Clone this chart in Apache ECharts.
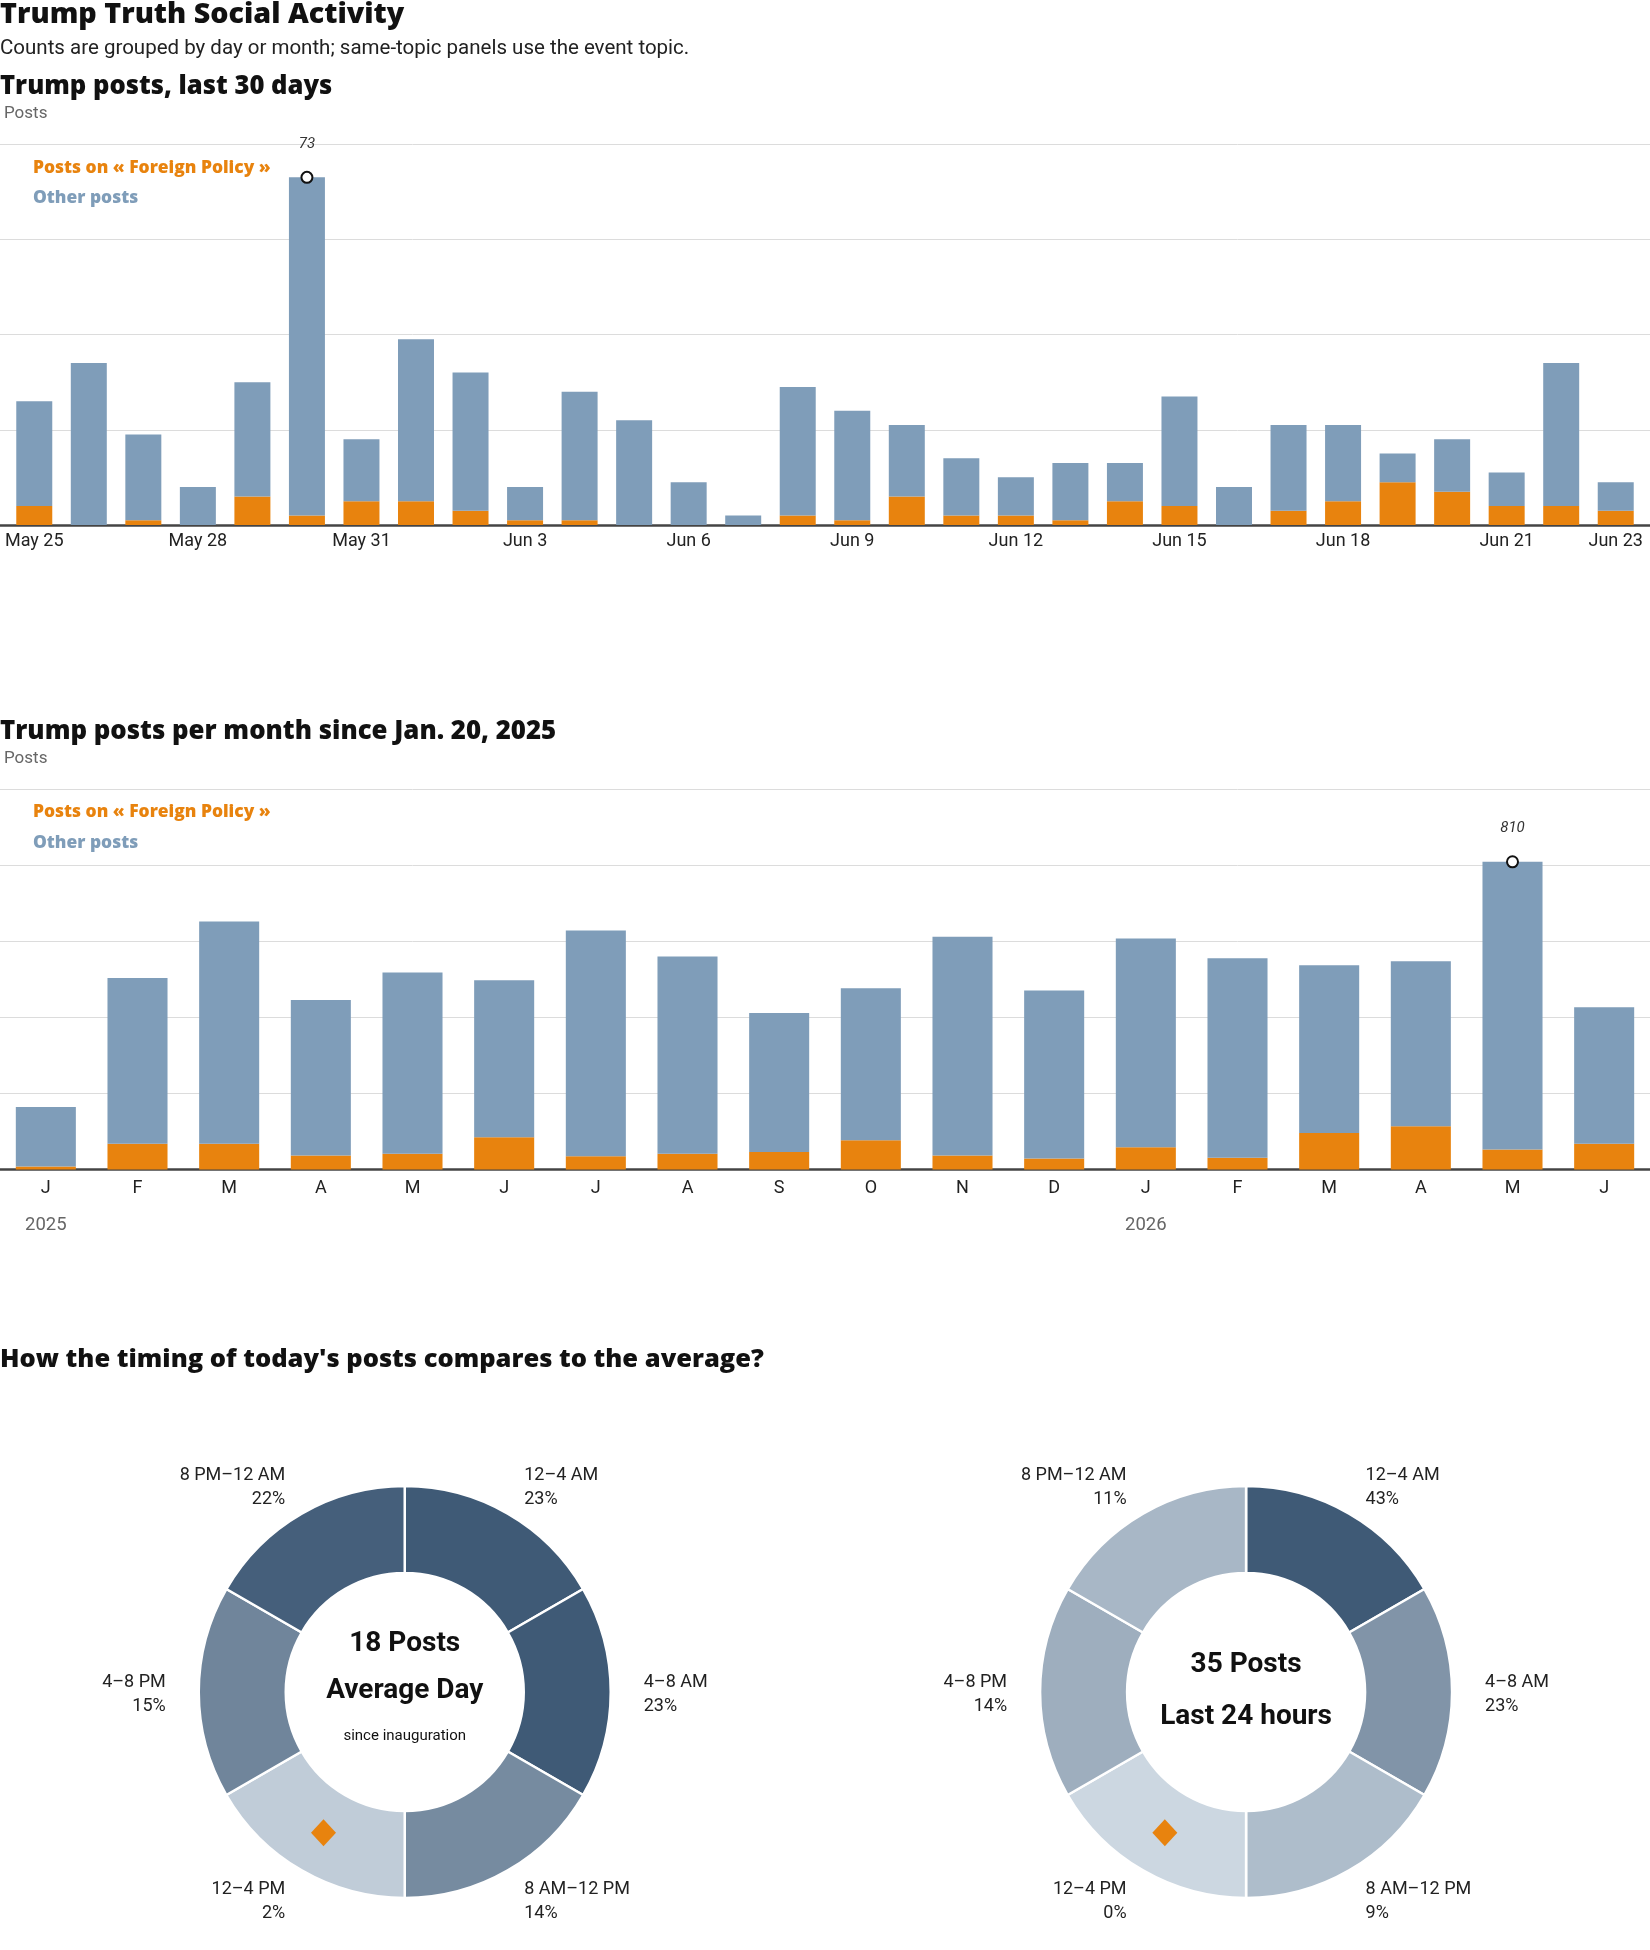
<!DOCTYPE html>
<html>
<head>
<meta charset="utf-8">
<title>Trump Truth Social Activity</title>
<script src="https://cdn.jsdelivr.net/npm/echarts@6/dist/echarts.min.js"></script>
<style>
html, body { margin: 0; padding: 0; background: #fff; }
#chart { width: 1650px; height: 1950px; }
</style>
</head>
<body>
<div id="chart"></div>
<script>
'use strict';
// last 30 days
var days = ['May 25', 'May 26', 'May 27', 'May 28', 'May 29', 'May 30', 'May 31',
	'Jun 1', 'Jun 2', 'Jun 3', 'Jun 4', 'Jun 5', 'Jun 6', 'Jun 7', 'Jun 8', 'Jun 9',
	'Jun 10', 'Jun 11', 'Jun 12', 'Jun 13', 'Jun 14', 'Jun 15', 'Jun 16', 'Jun 17',
	'Jun 18', 'Jun 19', 'Jun 20', 'Jun 21', 'Jun 22', 'Jun 23'];
var dayTotal = [26, 34, 19, 8, 30, 73, 18, 39, 32, 8, 28, 22, 9, 2, 29,
	24, 21, 14, 10, 13, 13, 27, 8, 21, 21, 15, 18, 11, 34, 9];
var dayTopic = [4, 0, 1, 0, 6, 2, 5, 5, 3, 1, 1, 0, 0, 0, 2,
	1, 6, 2, 2, 1, 5, 4, 0, 3, 5, 9, 7, 4, 4, 3];

// per month since inauguration
var months = ['2025-01', '2025-02', '2025-03', '2025-04', '2025-05', '2025-06', '2025-07',
	'2025-08', '2025-09', '2025-10', '2025-11', '2025-12', '2026-01', '2026-02',
	'2026-03', '2026-04', '2026-05', '2026-06'];
var monthTotal = [165, 504, 653, 446, 519, 498, 629, 561, 412, 477, 613, 471, 608, 556, 538, 548, 810, 427];
var monthTopic = [8, 68, 68, 37, 42, 85, 35, 42, 46, 77, 37, 29, 59, 31, 96, 114, 53, 68];

// timing donuts
var slots = ['12–4 AM', '4–8 AM', '8 AM–12 PM', '12–4 PM', '4–8 PM', '8 PM–12 AM'];
var avgShare = [23, 23, 14, 2, 15, 22];
var todayShare = [43, 23, 9, 0, 14, 11];
var nowSlot = '12–4 PM';
var avgPosts = 18;
var todayPosts = 35;

var topicName = 'Posts on « Foreign Policy »';
var otherName = 'Other posts';
var ORANGE = '#e8830e', BLUE = '#7f9db9';
var HEAD = '"Open Sans", Roboto, sans-serif';
var CENTER = 'Roboto, "Noto Sans", sans-serif';
var BODY = 'Roboto, "Noto Sans", sans-serif';

var dayOther = dayTotal.map(function (v, i) { return v - dayTopic[i]; });
var monthOther = monthTotal.map(function (v, i) { return v - monthTopic[i]; });

function peakOf(arr) {
	var idx = 0;
	for (var i = 1; i < arr.length; i++) { if (arr[i] > arr[idx]) idx = i; }
	return [idx, arr[idx]];
}

// darker slice = bigger share
var light = [204, 215, 225], dark = [63, 90, 118];
function shade(t) {
	return 'rgb(' + light.map(function (c, i) { return Math.round(c + (dark[i] - c) * t); }).join(',') + ')';
}
function donutData(share) {
	var max = Math.max.apply(null, share);
	return slots.map(function (s, i) {
		return { name: s, value: 1, itemStyle: { color: shade(share[i] / max) } };
	});
}

function heading(text, top, size) {
	return { text: text, left: 0, top: top, padding: 0,
		textStyle: { fontFamily: HEAD, fontWeight: 800, fontSize: size, color: '#111' } };
}
function centerText(text, left, top, size, weight) {
	return { text: text, left: left, top: top, padding: 0, textAlign: 'center', textVerticalAlign: 'top',
		textStyle: { fontFamily: CENTER, fontWeight: weight, fontSize: size, color: '#111' } };
}
function legendFor(top) {
	return {
		orient: 'vertical', left: 28, top: top, padding: 0, icon: 'none', itemWidth: 0, itemHeight: 20, itemGap: 10.5,
		selectedMode: false,
		textStyle: { fontFamily: HEAD, fontWeight: 800, fontSize: 17.4, lineHeight: 20 },
		data: [
			{ name: topicName, textStyle: { color: ORANGE } },
			{ name: otherName, textStyle: { color: BLUE } }
		]
	};
}
// backdrop axis: gridlines + "Posts" name, spanning the full width
function gridAxis(grid, max, interval, gap) {
	return {
		type: 'value', gridIndex: grid, min: 0, max: max, interval: interval,
		name: 'Posts', nameLocation: 'end', nameGap: gap,
		nameTextStyle: { align: 'left', verticalAlign: 'middle', color: '#666', fontSize: 17, fontFamily: BODY, padding: [0, 0, 0, 4] },
		axisLine: { show: false }, axisTick: { show: false }, axisLabel: { show: false },
		splitLine: { lineStyle: { color: '#dcdcdc', width: 1 } }
	};
}
function baseAxis(grid) {
	return {
		type: 'value', gridIndex: grid, min: 0, max: 1, position: 'bottom',
		axisLine: { onZero: false, lineStyle: { color: '#444', width: 2.5 } },
		axisTick: { show: false }, axisLabel: { show: false }, splitLine: { show: false }
	};
}
function barValueAxis(grid, max) {
	return { type: 'value', gridIndex: grid, min: 0, max: max, show: false, splitLine: { show: false } };
}
function peakSeries(x, y, peak, dist) {
	return {
		type: 'scatter', xAxisIndex: x, yAxisIndex: y, z: 5, silent: true,
		symbol: 'circle', symbolSize: 11,
		itemStyle: { color: '#fff', borderColor: '#111', borderWidth: 2, opacity: 1 },
		label: { show: true, position: 'top', distance: dist, fontStyle: 'italic', fontSize: 15,
			fontFamily: BODY, color: '#333', formatter: function (p) { return p.value[1]; } },
		data: [peak]
	};
}

var MON = 'JFMAMJJASOND';
var leftC = '24.53%', rightC = '75.52%', donutY = 1692;

var chart = echarts.init(document.getElementById('chart'));
var option = {
	animation: false,
	backgroundColor: '#fff',
	title: [
		heading('Trump Truth Social Activity', 0.5, 28.7),
		{ text: 'Counts are grouped by day or month; same-topic panels use the event topic.', left: 0, top: 38, padding: 0,
			textStyle: { fontFamily: BODY, fontWeight: 'normal', fontSize: 20.5, color: '#222' } },
		heading('Trump posts, last 30 days', 73.5, 25.6),
		heading('Trump posts per month since Jan. 20, 2025', 718.5, 25.8),
		heading('How the timing of today\'s posts compares to the average?', 1347, 25.5),
		centerText(avgPosts + ' Posts', leftC, 1630, 28, 'bold'),
		centerText('Average Day', leftC, 1677, 28, 'bold'),
		centerText('since inauguration', leftC, 1729, 15, 'normal'),
		centerText(todayPosts + ' Posts', rightC, 1650.5, 28, 'bold'),
		centerText('Last 24 hours', rightC, 1703, 28, 'bold')
	],
	legend: [legendFor(158), legendFor(802.5)],
	grid: [
		{ left: 7, right: 7, top: 144, height: 381, outerBoundsMode: 'none' },
		{ left: 0, right: 0, top: 789.6, height: 380, outerBoundsMode: 'none' },
		{ left: 0, right: 0, top: 144, height: 381, outerBoundsMode: 'none' }
	],
	xAxis: [
		{
			type: 'category', gridIndex: 0, data: days,
			axisLine: { show: false, onZero: false },
			axisTick: { show: false },
			axisLabel: { margin: 7, fontSize: 18, color: '#222', fontFamily: BODY,
				interval: function (i) { return i % 3 === 0 || i === days.length - 1; } }
		},
		{
			type: 'category', gridIndex: 1, data: months, position: 'bottom',
			axisLine: { onZero: false, lineStyle: { color: '#444', width: 2.5 } },
			axisTick: { show: false },
			axisLabel: { margin: 9.5, fontSize: 18, color: '#222', fontFamily: BODY, interval: 0,
				formatter: function (v) { return MON.charAt(+v.slice(5) - 1); } }
		},
		{
			type: 'category', gridIndex: 1, data: months, position: 'bottom',
			axisLine: { show: false, onZero: false }, axisTick: { show: false },
			axisLabel: { margin: 46.5, fontSize: 18.5, color: '#666', fontFamily: BODY, interval: 0,
				formatter: function (v) { return v.slice(5) === '01' ? v.slice(0, 4) : ''; } }
		},
		baseAxis(2)
	],
	yAxis: [barValueAxis(0, 80), gridAxis(1, 1000, 200, 30.6), gridAxis(2, 80, 20, 30)],
	polar: [
		{ center: [leftC, donutY], radius: [120, 205] },
		{ center: [rightC, donutY], radius: [120, 205] }
	],
	angleAxis: [0, 1].map(function (i) {
		return { polarIndex: i, type: 'category', data: slots, startAngle: 90, clockwise: true, boundaryGap: true,
			axisLine: { show: false }, axisTick: { show: false }, axisLabel: { show: false }, splitLine: { show: false } };
	}),
	radiusAxis: [0, 1].map(function (i) {
		return { polarIndex: i, type: 'value', min: 0, max: 1,
			axisLine: { show: false }, axisTick: { show: false }, axisLabel: { show: false }, splitLine: { show: false } };
	}),
	series: [
		{ name: topicName, type: 'bar', xAxisIndex: 0, yAxisIndex: 0, stack: 'day', barWidth: '66%',
			itemStyle: { color: ORANGE }, data: dayTopic },
		{ name: otherName, type: 'bar', xAxisIndex: 0, yAxisIndex: 0, stack: 'day', barWidth: '66%',
			itemStyle: { color: BLUE }, data: dayOther },
		peakSeries(0, 0, peakOf(dayTotal), 19),
		{ name: topicName, type: 'bar', xAxisIndex: 1, yAxisIndex: 1, stack: 'month', barWidth: '65.5%',
			itemStyle: { color: ORANGE }, data: monthTopic },
		{ name: otherName, type: 'bar', xAxisIndex: 1, yAxisIndex: 1, stack: 'month', barWidth: '65.5%',
			itemStyle: { color: BLUE }, data: monthOther },
		peakSeries(1, 1, peakOf(monthTotal), 20)
	].concat([[leftC, avgShare], [rightC, todayShare]].map(function (d) {
		return {
			type: 'pie', center: [d[0], donutY], radius: [119, 206], startAngle: 90, clockwise: true,
			silent: true, avoidLabelOverlap: false,
			itemStyle: { borderColor: '#fff', borderWidth: 2.5 },
			label: { show: true, position: 'outside', distanceToLabelLine: 0, fontSize: 18, lineHeight: 25,
				color: '#222', fontFamily: BODY,
				rich: {
					n: { fontSize: 18, lineHeight: 25, color: '#222', fontFamily: BODY, padding: [6, 0, 0, 0] },
					p: { fontSize: 18, lineHeight: 25, color: '#222', fontFamily: BODY, padding: [4, 0, 0, 0] }
				},
				formatter: function (p) { return '{n|' + p.name + '}\n{p|' + d[1][p.dataIndex] + '%}'; } },
			labelLine: { show: false, length: 33, length2: 0 },
			data: donutData(d[1])
		};
	})).concat([0, 1].map(function (i) {
		return {
			type: 'scatter', coordinateSystem: 'polar', polarIndex: i, z: 10, silent: true,
			symbol: 'diamond', symbolSize: [25, 27], itemStyle: { color: ORANGE, opacity: 1 },
			data: [[0.5, slots.indexOf(nowSlot)]]
		};
	}))
};
chart.setOption(option);
</script>
</body>
</html>
